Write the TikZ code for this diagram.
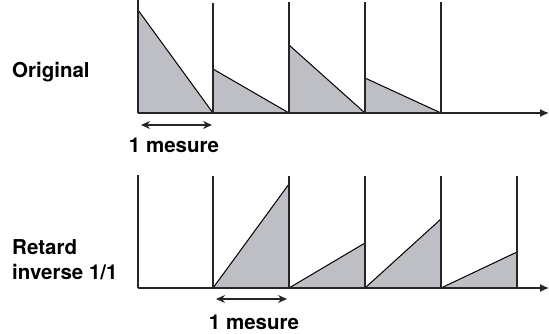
\documentclass[tikz,border=0pt]{standalone}
\usepackage{fontspec}
\setmainfont{TeX Gyre Heros}
\usetikzlibrary{arrows.meta}
\definecolor{grisdent}{RGB}{190,191,196}
\begin{document}
\begin{tikzpicture}[x=1pt,y=-1pt]
	\tikzstyle{dent}=[fill=grisdent,draw=black,line width=1pt,line join=round];
	\tikzstyle{barre}=[draw=black!85,line width=1.3pt];
	\tikzstyle{axe}=[draw=black!85,line width=1.3pt,-{Latex[length=9pt,width=8pt]}];
	\tikzstyle{duree}=[draw=black!85,line width=1.2pt,{Stealth[length=9pt,width=8pt]}-{Stealth[length=9pt,width=8pt]}];
	\tikzstyle{etiq}=[inner sep=0pt,font=\fontsize{20.5}{25}\selectfont\bfseries];
	\useasboundingbox (0,0) rectangle (549,334);
	%% labels
	\node[etiq,anchor=base west] (orig) at (12,78) {Original};
	\node[etiq,anchor=west,align=left] (retard) at (12,260) {Retard\\inverse 1/1};
	%% original
	\coordinate (a0) at (138,113);
	\coordinate (a1) at (213,113);
	\coordinate (a2) at (289,113);
	\coordinate (a3) at (365,113);
	\coordinate (a4) at (441,113);
	\coordinate (aend) at (549,113);
	\draw[dent] (a0) -- (138,10)  -- (a1) -- cycle;
	\draw[dent] (a1) -- (213,69)  -- (a2) -- cycle;
	\draw[dent] (a2) -- (289,45)  -- (a3) -- cycle;
	\draw[dent] (a3) -- (365,78)  -- (a4) -- cycle;
	\draw[barre] (a0) -- (138,0);
	\draw[barre] (a1) -- (213,3);
	\draw[barre] (a2) -- (289,2);
	\draw[barre] (a3) -- (365,2);
	\draw[barre] (a4) -- (441,2);
	\draw[axe] (a0) -- (aend);
	\coordinate (m1) at (141,125);
	\coordinate (m2) at (212,125);
	\draw[duree] (m1) -- (m2);
	\node[etiq,anchor=base] (mes1) at (174,153) {1 mesure};
	%% retard inverse
	\coordinate (b0) at (138,288);
	\coordinate (b1) at (213,288);
	\coordinate (b2) at (289,288);
	\coordinate (b3) at (365,288);
	\coordinate (b4) at (441,288);
	\coordinate (b5) at (517,288);
	\coordinate (bend) at (549,288);
	\draw[dent] (b1) -- (289,184) -- (b2) -- cycle;
	\draw[dent] (b2) -- (365,243) -- (b3) -- cycle;
	\draw[dent] (b3) -- (441,219) -- (b4) -- cycle;
	\draw[dent] (b4) -- (517,252) -- (b5) -- cycle;
	\draw[barre] (b0) -- (138,175);
	\draw[barre] (b1) -- (213,176);
	\draw[barre] (b2) -- (289,176);
	\draw[barre] (b3) -- (365,176);
	\draw[barre] (b4) -- (441,176);
	\draw[barre] (b5) -- (517,176);
	\draw[axe] (b0) -- (bend);
	\coordinate (n1) at (216,299);
	\coordinate (n2) at (287,299);
	\draw[duree] (n1) -- (n2);
	\node[etiq,anchor=base] (mes2) at (254,329) {1 mesure};
\end{tikzpicture}
\end{document}
